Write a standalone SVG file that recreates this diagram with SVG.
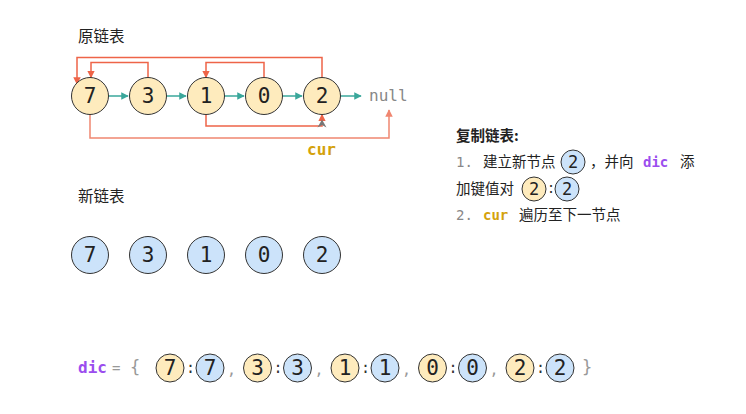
<svg xmlns="http://www.w3.org/2000/svg" width="746" height="414" viewBox="0 0 746 414">
<defs>
<style>
.y{fill:#FEEBBD;stroke:#333;stroke-width:1}
.b{fill:#CCE3FA;stroke:#333;stroke-width:1}
.d{font-family:"DejaVu Sans Mono","Liberation Mono",monospace;font-size:21px;fill:#222;text-anchor:middle;dominant-baseline:central}
.ds{font-family:"DejaVu Sans Mono","Liberation Mono",monospace;font-size:17px;fill:#222;text-anchor:middle;dominant-baseline:central}
.cn{font-family:"Noto Sans CJK SC","Noto Sans",sans-serif;font-size:14.5px;fill:#222}
.lbl{font-family:"Noto Sans CJK SC","Noto Sans",sans-serif;font-size:15.5px;fill:#222}
.mono{font-family:"DejaVu Sans Mono","Liberation Mono",monospace;font-size:14px}
.teal{stroke:#3AA79B;stroke-width:1.5;fill:none}
.red{stroke:#EE6448;stroke-width:1.5;fill:none}
.red2{stroke:#F08670;stroke-width:1.5;fill:none}
</style>
<marker id="at" viewBox="0 0 10 10" refX="9" refY="5" markerWidth="5" markerHeight="5" orient="auto"><path d="M0,0 L10,5 L0,10 z" fill="#3AA79B"/></marker>
<marker id="ar" viewBox="0 0 10 10" refX="9" refY="5" markerWidth="5" markerHeight="5" orient="auto"><path d="M0,0 L10,5 L0,10 z" fill="#EE6448"/></marker>
<marker id="ar2" viewBox="0 0 10 10" refX="9" refY="5" markerWidth="5" markerHeight="5" orient="auto"><path d="M0,0 L10,5 L0,10 z" fill="#F08670"/></marker>
</defs>
<rect width="746" height="414" fill="#fff"/>

<text class="lbl" x="78" y="42">原链表</text>
<text class="lbl" x="78" y="202">新链表</text>

<g id="connectors">
<path class="teal" d="M108.5,96 H128" marker-end="url(#at)"/>
<path class="teal" d="M166.5,96 H186" marker-end="url(#at)"/>
<path class="teal" d="M224.5,96 H244" marker-end="url(#at)"/>
<path class="teal" d="M282.5,96 H302" marker-end="url(#at)"/>
<path class="teal" d="M340.5,96 H361" marker-end="url(#at)"/>
<path class="red" d="M322,77.5 V57.5 H77 V84" marker-end="url(#ar)"/>
<path class="red" d="M148,77.5 V62.5 H91 V77.5" marker-end="url(#ar)"/>
<path class="red" d="M264,77.5 V62.5 H206 V77.5" marker-end="url(#ar)"/>
<path class="red" d="M206,114.5 V126 H322 V114.5" marker-end="url(#ar)"/>
<path class="red2" d="M90,114.5 V138 H389 V110" marker-end="url(#ar2)"/>
<polygon points="322,119.5 326.5,127.5 322,125 317.5,127.5" fill="#777"/>
</g>

<text class="mono" x="369" y="101" fill="#888" style="font-size:16px">null</text>
<text class="mono" x="307" y="155" fill="#D4A20C" font-weight="bold" style="font-size:16px">cur</text>

<g id="o7"><circle class="y" cx="90" cy="96" r="18.5"/><text class="d" x="90" y="96">7</text></g>
<g id="o3"><circle class="y" cx="148" cy="96" r="18.5"/><text class="d" x="148" y="96">3</text></g>
<g id="o1"><circle class="y" cx="206" cy="96" r="18.5"/><text class="d" x="206" y="96">1</text></g>
<g id="o0"><circle class="y" cx="264" cy="96" r="18.5"/><text class="d" x="264" y="96">0</text></g>
<g id="o2"><circle class="y" cx="322" cy="96" r="18.5"/><text class="d" x="322" y="96">2</text></g>

<g id="n7"><circle class="b" cx="90" cy="255" r="18.5"/><text class="d" x="90" y="255">7</text></g>
<g id="n3"><circle class="b" cx="148" cy="255" r="18.5"/><text class="d" x="148" y="255">3</text></g>
<g id="n1"><circle class="b" cx="206" cy="255" r="18.5"/><text class="d" x="206" y="255">1</text></g>
<g id="n0"><circle class="b" cx="264" cy="255" r="18.5"/><text class="d" x="264" y="255">0</text></g>
<g id="n2"><circle class="b" cx="322" cy="255" r="18.5"/><text class="d" x="322" y="255">2</text></g>

<g id="panel">
<text class="cn" x="456" y="141" font-weight="bold">复制链表:</text>
<text class="mono" x="456" y="167" fill="#888">1.</text>
<text class="cn" x="483" y="167">建立新节点</text>
<circle class="b" cx="573" cy="162" r="12"/><text class="ds" x="573" y="162">2</text>
<text class="cn" x="590" y="167">，并向</text>
<text class="mono" x="643" y="167" fill="#9B4DEE" font-weight="bold">dic</text>
<text class="cn" x="680" y="167">添</text>
<text class="cn" x="456" y="194">加键值对</text>
<circle class="y" cx="534" cy="189" r="12"/><text class="ds" x="534" y="189">2</text>
<text class="cn" x="549" y="193">:</text>
<circle class="b" cx="567" cy="189" r="12"/><text class="ds" x="567" y="189">2</text>
<text class="mono" x="456" y="220" fill="#888">2.</text>
<text class="mono" x="483" y="220" fill="#D4A20C" font-weight="bold">cur</text>
<text class="cn" x="519" y="220">遍历至下一节点</text>
</g>

<g id="dic">
<text class="mono" x="78" y="373" fill="#9B4DEE" font-weight="bold" style="font-size:16px">dic</text>
<text class="mono" x="112" y="373" fill="#999" style="font-size:14px">=</text>
<text class="mono" x="130" y="373" fill="#999" style="font-size:17px">{</text>
<g id="p7"><circle class="y" cx="170" cy="368" r="14"/><text class="d" x="170" y="368">7</text>
<text class="mono" x="186" y="373" fill="#333" style="font-size:15px">:</text>
<circle class="b" cx="210" cy="368" r="14"/><text class="d" x="210" y="368">7</text>
<text class="mono" x="227" y="375" fill="#999" style="font-size:15px">,</text></g>
<g id="p3"><circle class="y" cx="257.5" cy="368" r="14"/><text class="d" x="257.5" y="368">3</text>
<text class="mono" x="273.5" y="373" fill="#333" style="font-size:15px">:</text>
<circle class="b" cx="297.5" cy="368" r="14"/><text class="d" x="297.5" y="368">3</text>
<text class="mono" x="314.5" y="375" fill="#999" style="font-size:15px">,</text></g>
<g id="p1"><circle class="y" cx="345" cy="368" r="14"/><text class="d" x="345" y="368">1</text>
<text class="mono" x="361" y="373" fill="#333" style="font-size:15px">:</text>
<circle class="b" cx="385" cy="368" r="14"/><text class="d" x="385" y="368">1</text>
<text class="mono" x="402" y="375" fill="#999" style="font-size:15px">,</text></g>
<g id="p0"><circle class="y" cx="432.5" cy="368" r="14"/><text class="d" x="432.5" y="368">0</text>
<text class="mono" x="448.5" y="373" fill="#333" style="font-size:15px">:</text>
<circle class="b" cx="472.5" cy="368" r="14"/><text class="d" x="472.5" y="368">0</text>
<text class="mono" x="489.5" y="375" fill="#999" style="font-size:15px">,</text></g>
<g id="p2"><circle class="y" cx="520" cy="368" r="14"/><text class="d" x="520" y="368">2</text>
<text class="mono" x="536" y="373" fill="#333" style="font-size:15px">:</text>
<circle class="b" cx="560" cy="368" r="14"/><text class="d" x="560" y="368">2</text></g>
<text class="mono" x="582" y="373" fill="#999" style="font-size:17px">}</text>
</g>
</svg>
